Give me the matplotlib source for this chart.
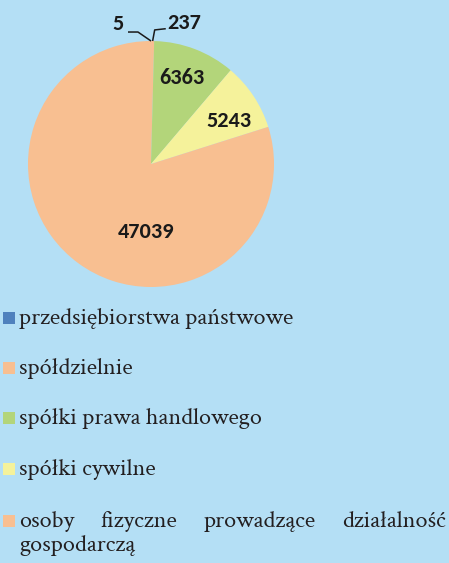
import matplotlib
matplotlib.use("Agg")
import numpy as np
import matplotlib.pyplot as plt
from matplotlib.patches import Rectangle

# data
categories = ["przedsiębiorstwa państwowe", "spółdzielnie", "spółki prawa handlowego",
              "spółki cywilne", "osoby fizyczne prowadzące działalność gospodarczą"]
values = [5, 237, 6363, 5243, 47039]
colors = ["#4f81bd", "#f8bf91", "#b3d57a", "#f5f29b", "#f8bf91"]

BG = "#b4dff5"
W, H = 449, 563

fig = plt.figure(figsize=(W / 100, H / 100), dpi=100, facecolor=BG)

# pie axes, centre (151,164) px, radius 123 px
cx, cy, r = 151, 164, 123
ax = fig.add_axes([(cx - r) / W, (H - cy - r) / H, 2 * r / W, 2 * r / H])
ax.set_facecolor(BG)
wedges, _ = ax.pie(values, colors=colors, startangle=90, counterclock=False,
                   radius=1.0, wedgeprops=dict(linewidth=0))
ax.set_xlim(-1, 1)
ax.set_ylim(-1, 1)
ax.axis("off")

num_font = dict(family="Carlito", fontweight="bold", fontsize=16, color="#1a1a1a")

# inside labels
ax.text(0.25, 0.70, f"{values[2]}", ha="center", va="center", **num_font)
ax.text(0.63, 0.35, f"{values[3]}", ha="center", va="center", **num_font)
ax.text(-0.04, -0.55, f"{values[4]}", ha="center", va="center", **num_font)

# outside labels with leader lines (anchored at wedge mid angles)
def mid_point(w):
    a = np.deg2rad((w.theta1 + w.theta2) / 2)
    return np.cos(a), np.sin(a)

x0, y0 = mid_point(wedges[0])
ax.plot([-0.187, -0.106, x0], [1.073, 1.073, y0], color="#1a1a1a", lw=1.1,
        clip_on=False, solid_capstyle="butt")
ax.text(-0.27, 1.14, f"{values[0]}", ha="center", va="center", clip_on=False, **num_font)

x1, y1 = mid_point(wedges[1])
ax.plot([x1, 0.03, 0.12], [y1, 1.09, 1.10], color="#1a1a1a", lw=1.1,
        clip_on=False, solid_capstyle="butt")
ax.text(0.135, 1.15, f"{values[1]}", ha="left", va="center", clip_on=False, **num_font)

# legend drawn by hand
txt_font = dict(family="Crimson Text", fontsize=17.5, color="#231f20")
baselines = [324, 374, 424, 475, 527]
text_x = 19
right_x = 446

def fx(px):
    return px / W

def fy(py):
    return 1 - py / H

for i, (lab, col, base) in enumerate(zip(categories, colors, baselines)):
    fig.add_artist(Rectangle((fx(3), fy(base)), 12 / W, 12 / H, transform=fig.transFigure,
                             facecolor=col, edgecolor="none"))
    if i < len(categories) - 1:
        fig.text(fx(text_x), fy(base), lab, ha="left", va="baseline", **txt_font)

# last item: justified first line, then wrap
words = ["osoby", "fizyczne", "prowadzące", "działalność"]
renderer = fig.canvas.get_renderer()
arts = [fig.text(0, fy(baselines[-1]), w, ha="left", va="baseline", **txt_font) for w in words]
widths = [a.get_window_extent(renderer).width for a in arts]
gap = (right_x - text_x - sum(widths)) / (len(words) - 1)
xpos = text_x
for a, wdt in zip(arts, widths):
    a.set_x(fx(xpos))
    xpos += wdt + gap
fig.text(fx(text_x), fy(551), "gospodarczą", ha="left", va="baseline", **txt_font)

fig.savefig("out.png", dpi=100, facecolor=BG)
